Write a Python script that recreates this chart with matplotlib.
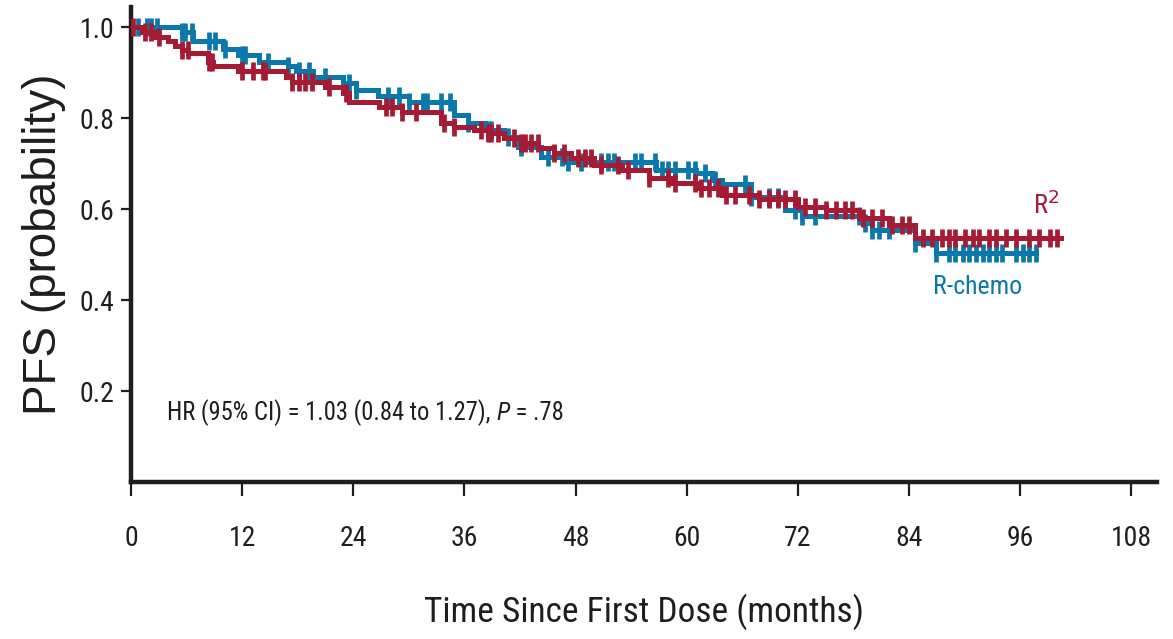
import glob
import numpy as np
import matplotlib
matplotlib.use('Agg')
import matplotlib.pyplot as plt
from matplotlib import font_manager as fm

# Kaplan-Meier step points (months, PFS probability)
rchemo_time = [0, 5.5, 6.7, 9.9, 11.6, 13.8, 17.0, 17.8, 19.6, 22.9, 24.3, 26.7,
               30.0, 34.9, 36.4, 38.2, 40.3, 41.8, 44.3, 46.8, 56.7, 61.0, 62.7,
               63.8, 67.0, 70.6, 72.5, 79.0, 80.0, 84.7, 86.9]
rchemo_surv = [1.0, 0.99, 0.97, 0.953, 0.94, 0.923, 0.915, 0.905, 0.89, 0.878, 0.862,
               0.85, 0.835, 0.807, 0.79, 0.775, 0.758, 0.736, 0.714, 0.703, 0.686,
               0.679, 0.665, 0.655, 0.626, 0.598, 0.585, 0.57, 0.555, 0.525, 0.503]
rchemo_end = 97.7

r2_time = [0, 1.2, 2.5, 4.0, 4.8, 5.5, 6.2, 8.3, 8.8, 11.6, 16.7, 17.4, 21.0, 22.9,
           23.5, 26.8, 29.3, 33.5, 34.9, 37.0, 38.5, 40.3, 42.1, 44.0, 45.7, 47.5,
           50.0, 53.0, 55.9, 58.4, 61.3, 63.8, 67.8, 72.0, 75.0, 78.6, 81.8, 84.7]
r2_surv = [1.0, 0.99, 0.98, 0.97, 0.96, 0.95, 0.943, 0.923, 0.915, 0.905, 0.89, 0.879,
           0.868, 0.855, 0.835, 0.824, 0.813, 0.79, 0.78, 0.774, 0.767, 0.756, 0.745,
           0.734, 0.723, 0.712, 0.697, 0.686, 0.668, 0.657, 0.646, 0.631, 0.622,
           0.605, 0.598, 0.58, 0.565, 0.536]
r2_end = 100.4

# censored observations (months)
rchemo_cens = [0.8, 1.7, 2.2, 2.8, 5.5, 5.8, 6.6, 8.4, 9.1, 10.2, 12.0, 12.3, 14.8,
               17.0, 18.1, 19.2, 21.0, 23.5, 24.3, 27.8, 28.9, 30.0, 31.5, 32.0,
               33.5, 34.5, 36.4, 38.5, 38.9, 40.7, 42.1, 45.0, 46.5, 47.2, 48.6,
               50.8, 51.5, 52.2, 54.4, 55.1, 56.6, 57.3, 58.0, 58.7, 60.2, 60.9,
               62.0, 63.1, 66.3, 67.0, 68.9, 69.9, 71.7, 72.5, 73.9, 78.6, 79.3,
               80.0, 80.8, 81.8, 84.7, 86.9, 88.3, 89.0, 89.8, 90.5, 91.2, 92.0,
               92.7, 93.4, 94.1, 95.6, 96.3, 97.0, 97.7]
r2_cens = [0.25, 1.5, 2.2, 3.0, 5.5, 6.1, 8.4, 8.7, 12.0, 13.2, 14.2, 14.5, 17.4,
           18.1, 18.8, 19.5, 21.4, 23.2, 27.5, 28.2, 29.3, 30.8, 33.8, 34.9, 37.8,
           38.5, 38.9, 39.6, 41.4, 42.1, 42.5, 43.2, 43.9, 45.7, 46.8, 48.3, 49.0,
           49.7, 50.8, 52.6, 53.7, 55.9, 58.0, 58.7, 60.9, 61.6, 62.4, 63.4, 64.2,
           65.2, 66.7, 67.8, 68.9, 69.9, 70.6, 71.7, 72.8, 73.9, 75.0, 76.1, 77.1,
           77.9, 79.0, 80.0, 81.1, 82.2, 83.3, 84.0, 85.5, 86.5, 87.6, 88.3, 89.0,
           90.1, 90.9, 91.6, 92.7, 93.4, 94.5, 95.6, 97.0, 98.1, 99.2, 100.0]

xticks = [0, 12, 24, 36, 48, 60, 72, 84, 96, 108]
yticks = [0.2, 0.4, 0.6, 0.8, 1.0]

BLUE = '#0a78aa'
RED = '#a71a33'
INK = '#1e1e1e'


def find_narrow(italic=False):
    """Look for a condensed sans face, fall back to plain DejaVu Sans."""
    style = 'italic' if italic else 'normal'
    for f in fm.fontManager.ttflist:
        if (f.name in ('Liberation Sans Narrow', 'Roboto Condensed',
                       'Open Sans Condensed', 'Arial Narrow')
                and f.style == style and f.weight in (400, 'normal', 'regular')):
            return f.fname
    for f in fm.fontManager.ttflist:
        if (f.name == 'DejaVu Sans' and 'condensed' in str(f.stretch)
                and f.style in ((style, 'oblique') if italic else (style,))
                and f.weight in (400, 'normal', 'regular')):
            return f.fname
    pats = ['*Narrow-Italic*', '*Condensed-Oblique*'] if italic else \
        ['*Narrow-Regular*', '*SansNarrow.ttf', '*SansCondensed.ttf']
    for p in pats:
        hits = glob.glob('/usr/share/fonts/**/' + p, recursive=True)
        if hits:
            return hits[0]
    return None


def fprops(size, italic=False):
    path = find_narrow(italic)
    if path:
        return fm.FontProperties(fname=path, size=size)
    return fm.FontProperties(family='DejaVu Sans', size=size,
                             style='italic' if italic else 'normal')


def surv_at(times, surv, t):
    idx = np.searchsorted(times, t, side='right') - 1
    return np.asarray(surv)[idx]


def plot_arm(ax, times, surv, end, cens, color, z):
    x = list(times) + [end]
    y = list(surv) + [surv[-1]]
    ax.step(x, y, where='post', color=color, lw=3.6, zorder=z,
            solid_joinstyle='miter')
    cy = surv_at(times, surv, np.array(cens))
    ax.plot(cens, cy, ls='none', marker='|', ms=13, mew=3.4, color=color,
            zorder=z)


fig = plt.figure(figsize=(11.73, 6.39), dpi=100)
ax = fig.add_axes([0.1117, 0.2457, 0.8747, 0.7433])

plot_arm(ax, rchemo_time, rchemo_surv, rchemo_end, rchemo_cens, BLUE, 3)
plot_arm(ax, r2_time, r2_surv, r2_end, r2_cens, RED, 4)

ax.set_xlim(0, 110.8)
ax.set_ylim(0, 1.045)
ax.set_xticks(xticks)
ax.set_yticks(yticks)
ax.set_xticklabels([str(v) for v in xticks], fontproperties=fprops(20),
                   color=INK)
ax.set_yticklabels(['%.1f' % v for v in yticks], fontproperties=fprops(20),
                   color=INK)
ax.tick_params(axis='x', length=10, width=1.6, pad=21, color=INK)
ax.tick_params(axis='y', length=7, width=1.6, pad=5, color=INK)

for side in ['top', 'right']:
    ax.spines[side].set_visible(False)
for side in ['left', 'bottom']:
    ax.spines[side].set_linewidth(3.2)
    ax.spines[side].set_color(INK)

ax.set_xlabel('Time Since First Dose (months)', fontproperties=fprops(25.5),
              color=INK, labelpad=30)
ax.set_ylabel('PFS (probability)', family='Liberation Sans', fontsize=33,
              color=INK, labelpad=10)

# hazard ratio note, P set in italics
hr = ax.text(3.9, 0.152, 'HR (95% CI) = 1.03 (0.84 to 1.27), ',
             fontproperties=fprops(17.7), color=INK, va='center')
pp = ax.annotate('P', xy=(1, 0.5), xycoords=hr, va='center',
                 fontproperties=fprops(17.7, italic=True), color=INK)
ax.annotate(' = .78', xy=(1, 0.5), xycoords=pp, va='center',
            fontproperties=fprops(17.7), color=INK)

ax.text(98.8, 0.609, 'R$^2$', fontproperties=fprops(19), color=RED,
        ha='center', va='center')
ax.text(91.4, 0.428, 'R-chemo', fontproperties=fprops(18.6), color=BLUE,
        ha='center', va='center')

fig.savefig('out.png', dpi=100)
